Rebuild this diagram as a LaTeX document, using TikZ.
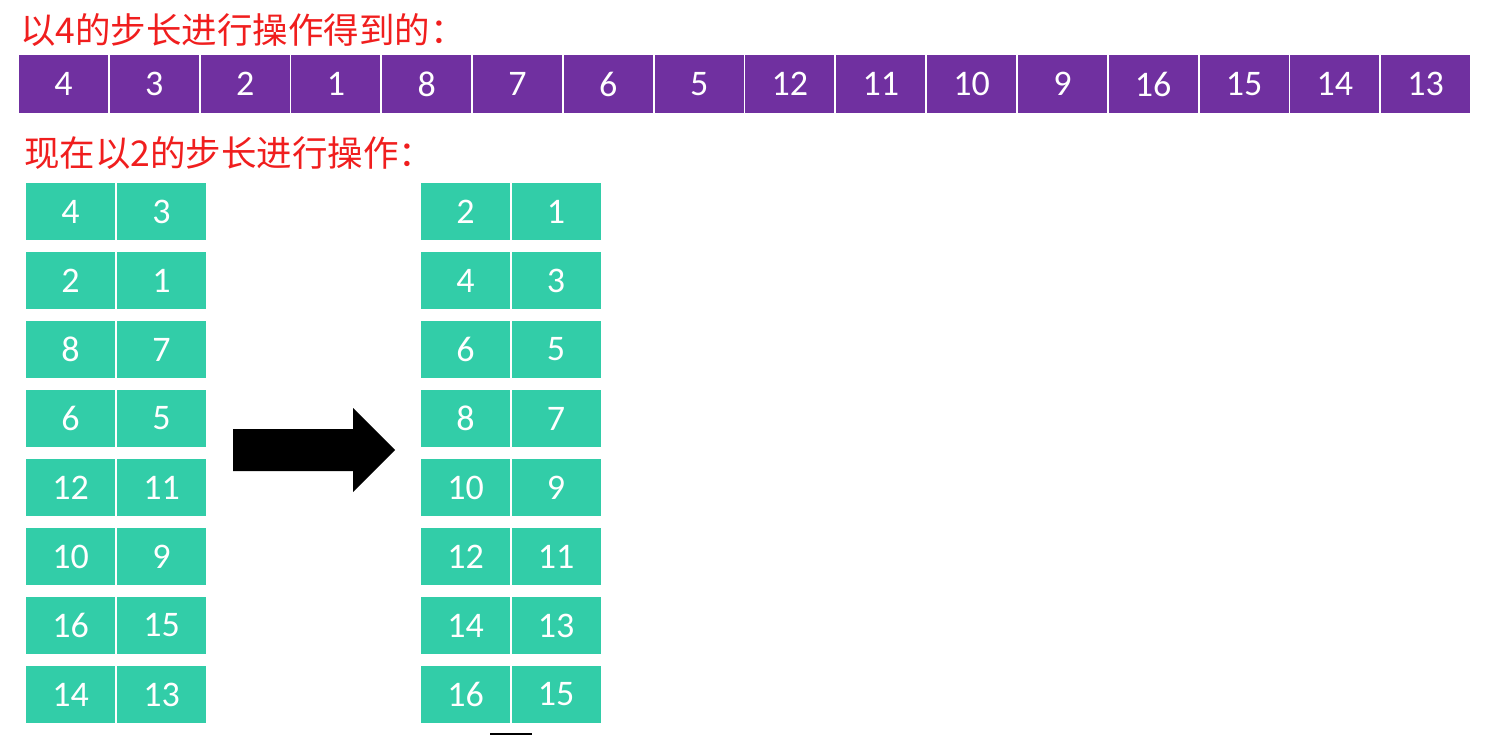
\documentclass[tikz,border=0pt]{standalone}
\usepackage{fontspec}
\setmainfont{Carlito}
\newfontfamily\cjk{Noto Sans CJK SC}
\definecolor{cellpurple}{RGB}{112,48,160}
\definecolor{cellgreen}{RGB}{50,205,168}
\definecolor{titlered}{RGB}{240,30,30}
\begin{document}
\begin{tikzpicture}[x=1pt,y=-1pt,
  cellbase/.style={minimum width=89pt,minimum height=57pt,inner sep=0pt,text=white,font=\fontsize{36}{36}\selectfont},
  pcell/.style={cellbase,fill=cellpurple,minimum width=89pt,minimum height=58pt},
  gcell/.style={cellbase,fill=cellgreen},
  title/.style={anchor=west,inner sep=0pt,text=titlered,font=\cjk\fontsize{35.5}{36}\selectfont}]
\useasboundingbox (0,0) rectangle (1511,735);
\node[title] (t1) at (20,30) {以4的步长进行操作得到的：};
\foreach \v [count=\i from 0] in {4,3,2,1,8,7,6,5,12,11,10,9,16,15,14,13}{
  \node[pcell] (p\i) at ({19+44.5+\i*90.81},84) {\v};
}
\node[title] (t2) at (24,153) {现在以2的步长进行操作：};
\foreach \a/\b [count=\r from 0] in {4/3,2/1,8/7,6/5,12/11,10/9,16/15,14/13}{
  \node[gcell] (l\r a) at (70.5,{211.5+\r*69}) {\a};
  \node[gcell] (l\r b) at (161.5,{211.5+\r*69}) {\b};
}
\foreach \a/\b [count=\r from 0] in {2/1,4/3,6/5,8/7,10/9,12/11,14/13,16/15}{
  \node[gcell] (r\r a) at (465.5,{211.5+\r*69}) {\a};
  \node[gcell] (r\r b) at (556,{211.5+\r*69}) {\b};
}
\fill[black] (233,429) -- (353,429) -- (353,408) -- (395,450) -- (353,492) -- (353,471) -- (233,471) -- cycle;
\fill[black] (490,733) rectangle (532,735);
\end{tikzpicture}
\end{document}
